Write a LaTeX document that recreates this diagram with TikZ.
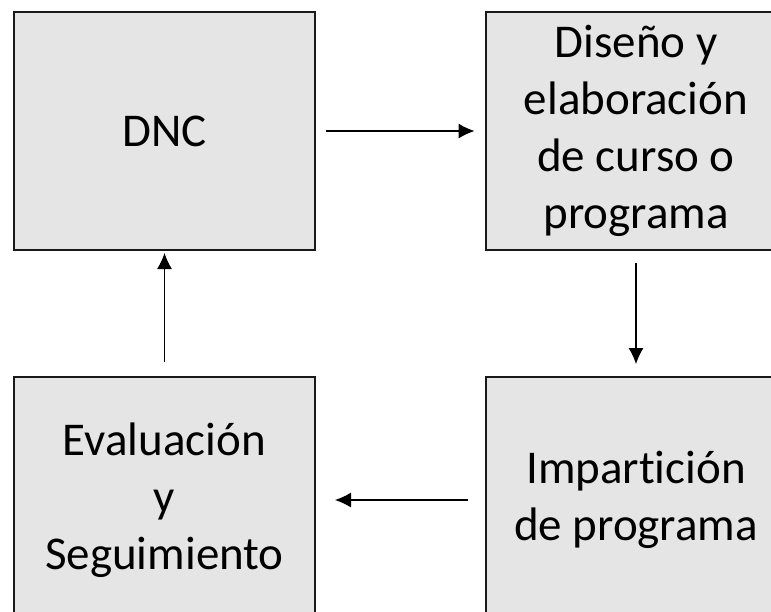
\documentclass[tikz,border=0pt]{standalone}
\usepackage{fontspec}
\setmainfont{Carlito}[RawFeature=-liga]
\usetikzlibrary{arrows.meta, positioning}

\begin{document}
\begin{tikzpicture}[x=1pt, y=-1pt,
    stage/.style={rectangle, draw=black!90, line width=2pt, fill=gray!20, minimum width=301pt, minimum height=238pt, align=center, inner sep=0pt, font=\fontsize{47}{57}\selectfont},
    flow/.style={-{Latex[length=16pt,width=15pt]}, line width=1.1pt}
]
\clip (0,0) rectangle (771,611);

% Stages of the cycle
\node[stage] (dnc) at (164.5,131) {DNC};
\node[stage] (diseno) at (636,131) {Diseño y\\elaboración\\de curso o\\programa};
\node[stage, minimum height=246pt] (imparticion) at (636,500) {Impartición\\de programa};
\node[stage, minimum height=246pt] (evaluacion) at (164.5,500) {Evaluación\\y\\Seguimiento};

% Arrows between stages
\draw[flow, shorten <=10pt, shorten >=10pt] (dnc) -- (diseno);
\draw[flow, shorten <=12pt, shorten >=12pt] (diseno) -- (imparticion);
\draw[flow, shorten <=17pt, shorten >=19pt] (imparticion) -- (evaluacion);
\draw[flow, shorten <=14pt, shorten >=2pt] (evaluacion) -- (dnc);

\end{tikzpicture}
\end{document}
